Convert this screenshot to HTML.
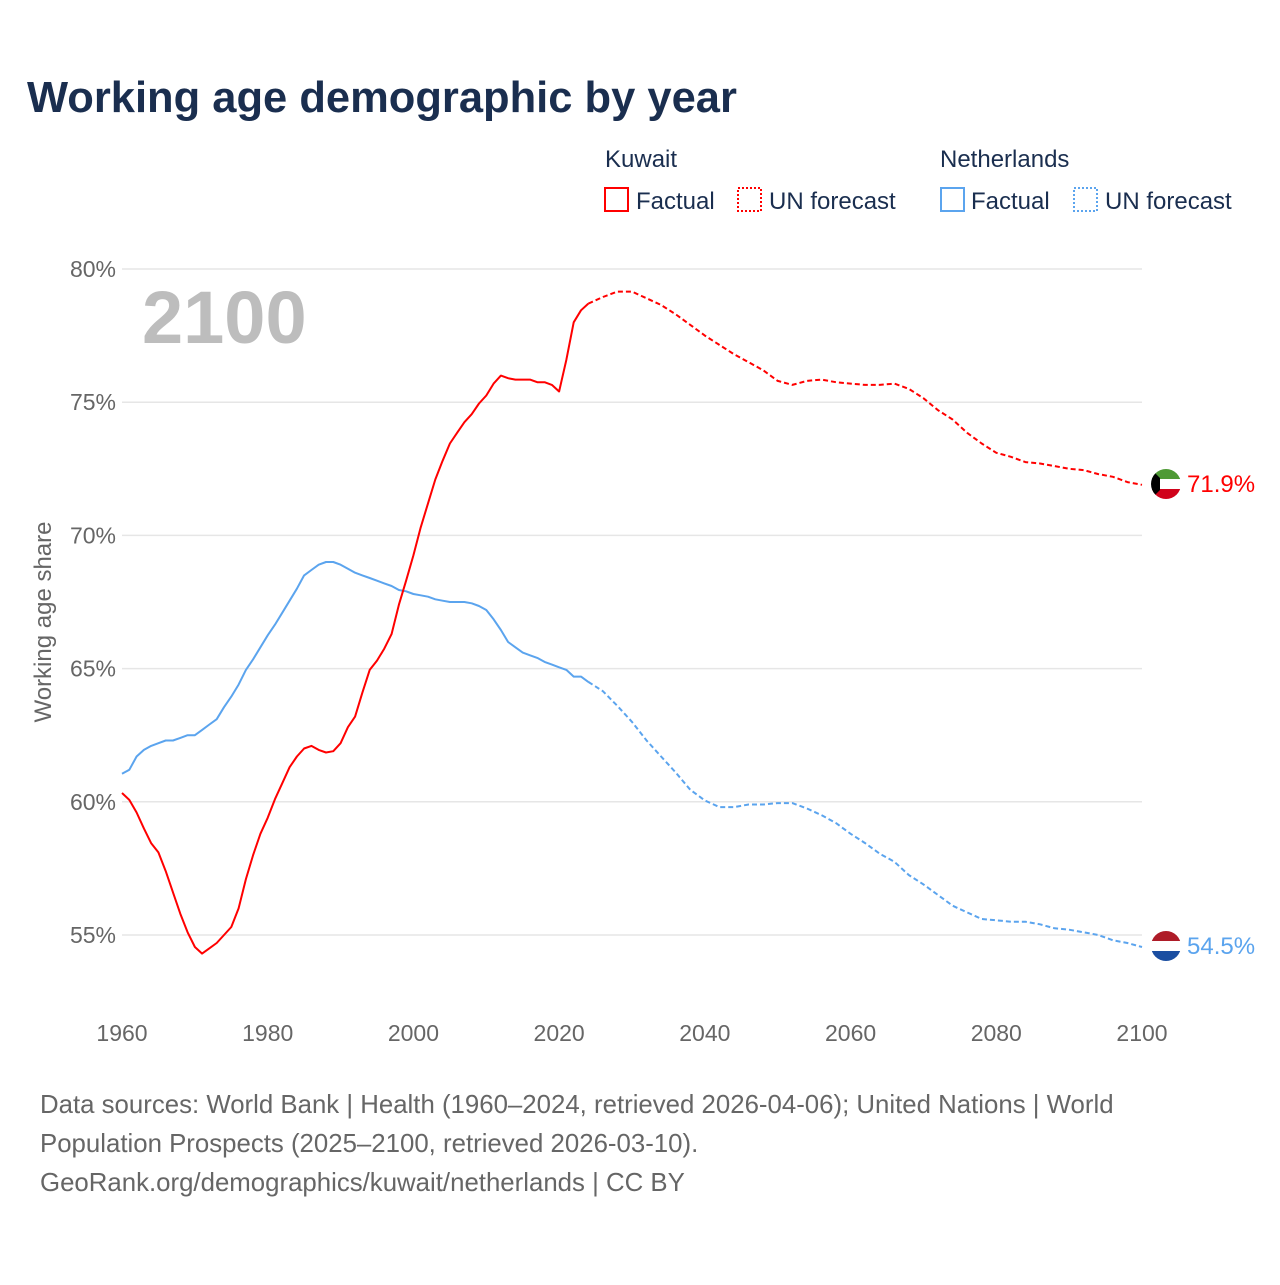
<!DOCTYPE html>
<html><head><meta charset="utf-8"><style>
body{margin:0;background:#fff;font-family:"Liberation Sans",sans-serif;}
</style></head><body>
<svg width="1280" height="1280" viewBox="0 0 1280 1280" xmlns="http://www.w3.org/2000/svg" font-family="Liberation Sans, sans-serif">
<rect width="1280" height="1280" fill="#fff"/>
<text x="27" y="112" font-size="43.5" font-weight="bold" fill="#1a2e4f">Working age demographic by year</text>
<g font-size="24" fill="#1a2e4f">
<text x="605" y="167">Kuwait</text>
<rect x="605" y="188" width="23" height="23" fill="none" stroke="#f00" stroke-width="2"/>
<text x="636" y="209">Factual</text>
<rect x="738" y="188" width="23" height="23" fill="none" stroke="#f00" stroke-width="2" stroke-dasharray="2,2"/>
<text x="769" y="209">UN forecast</text>
<text x="940" y="167">Netherlands</text>
<rect x="941" y="188" width="23" height="23" fill="none" stroke="#5ba4ee" stroke-width="2"/>
<text x="971" y="209">Factual</text>
<rect x="1074" y="188" width="23" height="23" fill="none" stroke="#5ba4ee" stroke-width="2" stroke-dasharray="2,2"/>
<text x="1105" y="209">UN forecast</text>
</g>
<g id="grid"></g>
<text x="142" y="343" font-size="74" font-weight="bold" fill="#bdbdbd">2100</text>
<text transform="translate(51,622) rotate(-90)" text-anchor="middle" font-size="24" fill="#666">Working age share</text>
<g id="series"></g>
<g>
<clipPath id="cf1"><circle cx="1166" cy="484" r="15"/></clipPath>
<g clip-path="url(#cf1)"><rect x="1150" y="468" width="32" height="11" fill="#4e9a35"/><rect x="1150" y="479" width="32" height="10" fill="#fff"/><rect x="1150" y="489" width="32" height="11" fill="#d0021b"/><polygon points="1150,468 1160,478 1160,490 1150,500" fill="#000"/></g>
</g>
<g>
<clipPath id="cf2"><circle cx="1166" cy="946" r="15"/></clipPath>
<g clip-path="url(#cf2)"><rect x="1150" y="930" width="32" height="11" fill="#ae1c28"/><rect x="1150" y="941" width="32" height="10" fill="#fff"/><rect x="1150" y="951" width="32" height="11" fill="#1a4ea1"/></g>
</g>
<text x="1187" y="492" font-size="24" fill="#f00">71.9%</text>
<text x="1187" y="954" font-size="24" fill="#5ba4ee">54.5%</text>
<g font-size="25.8" fill="#666">
<text x="40" y="1113">Data sources: World Bank | Health (1960–2024, retrieved 2026-04-06); United Nations | World</text>
<text x="40" y="1152">Population Prospects (2025–2100, retrieved 2026-03-10).</text>
<text x="40" y="1191">GeoRank.org/demographics/kuwait/netherlands | CC BY</text>
</g>
</svg>
<script>
const yTicks=[55,60,65,70,75,80];
const xTicks=[1960,1980,2000,2020,2040,2060,2080,2100];
const kwYears=[1960,1961,1962,1963,1964,1965,1966,1967,1968,1969,1970,1971,1972,1973,1974,1975,1976,1977,1978,1979,1980,1981,1982,1983,1984,1985,1986,1987,1988,1989,1990,1991,1992,1993,1994,1995,1996,1997,1998,1999,2000,2001,2002,2003,2004,2005,2006,2007,2008,2009,2010,2011,2012,2013,2014,2015,2016,2017,2018,2019,2020,2021,2022,2023,2024];
const kwFactual=[60.33,60.07,59.6,59.0,58.45,58.1,57.4,56.6,55.8,55.1,54.55,54.3,54.5,54.7,55.0,55.3,56.0,57.1,58.0,58.8,59.4,60.1,60.7,61.3,61.7,62.0,62.1,61.95,61.85,61.9,62.2,62.8,63.2,64.1,64.95,65.3,65.75,66.3,67.4,68.3,69.25,70.3,71.2,72.1,72.8,73.45,73.85,74.25,74.55,74.95,75.25,75.7,76.0,75.9,75.85,75.85,75.85,75.75,75.75,75.65,75.4,76.6,78.0,78.45,78.7];
const fcYears=[2024,2026,2028,2030,2032,2034,2036,2038,2040,2042,2044,2046,2048,2050,2052,2054,2056,2058,2060,2062,2064,2066,2068,2070,2072,2074,2076,2078,2080,2082,2084,2086,2088,2090,2092,2094,2096,2098,2100];
const kwForecast=[78.7,78.95,79.15,79.15,78.9,78.65,78.3,77.9,77.5,77.15,76.8,76.5,76.2,75.8,75.65,75.8,75.85,75.75,75.7,75.65,75.65,75.7,75.5,75.15,74.7,74.35,73.85,73.45,73.1,72.95,72.75,72.7,72.6,72.5,72.45,72.3,72.2,72.0,71.9];
const nlYears=kwYears;
const nlFactual=[61.05,61.2,61.7,61.95,62.1,62.2,62.3,62.3,62.4,62.5,62.5,62.7,62.9,63.1,63.55,63.95,64.4,64.95,65.35,65.8,66.25,66.65,67.1,67.55,68.0,68.5,68.7,68.9,69.0,69.0,68.9,68.75,68.6,68.5,68.4,68.3,68.2,68.1,67.95,67.9,67.8,67.75,67.7,67.6,67.55,67.5,67.5,67.5,67.45,67.35,67.2,66.85,66.45,66.0,65.8,65.6,65.5,65.4,65.25,65.15,65.05,64.95,64.7,64.7,64.5];
const nlForecast=[64.5,64.15,63.6,63.0,62.3,61.7,61.1,60.45,60.05,59.8,59.8,59.9,59.9,59.95,59.95,59.75,59.5,59.2,58.8,58.45,58.05,57.75,57.25,56.9,56.5,56.1,55.85,55.6,55.55,55.5,55.5,55.4,55.25,55.2,55.1,55.0,54.8,54.7,54.55];
const X0=122,X1=1142,Y80=269,Y55=935;
const xs=y=>X0+(y-1960)*(X1-X0)/140;
const ys=v=>Y80+(80-v)*(Y55-Y80)/25;
const NS="http://www.w3.org/2000/svg";
const grid=document.getElementById('grid');
yTicks.forEach(t=>{
 const l=document.createElementNS(NS,'line');
 l.setAttribute('x1',X0);l.setAttribute('x2',X1);l.setAttribute('y1',ys(t));l.setAttribute('y2',ys(t));
 l.setAttribute('stroke','#e6e6e6');l.setAttribute('stroke-width','1.5');
 
 
 grid.appendChild(l);
 const tx=document.createElementNS(NS,'text');
 tx.setAttribute('x',116);tx.setAttribute('y',ys(t)+8);tx.setAttribute('text-anchor','end');
 tx.setAttribute('font-size','23');tx.setAttribute('fill','#666');tx.textContent=t+'%';
 
 
 grid.appendChild(tx);
});
xTicks.forEach(t=>{
 const tx=document.createElementNS(NS,'text');
 tx.setAttribute('x',xs(t));tx.setAttribute('y',1041);tx.setAttribute('text-anchor','middle');
 tx.setAttribute('font-size','23');tx.setAttribute('fill','#666');tx.textContent=t;
 
 
 grid.appendChild(tx);
});
const ser=document.getElementById('series');
function line(yrs,vals,color,dash,name){
 const p=document.createElementNS(NS,'path');
 p.setAttribute('d',yrs.map((y,i)=>(i?'L':'M')+xs(y).toFixed(1)+','+ys(vals[i]).toFixed(1)).join(''));
 p.setAttribute('fill','none');p.setAttribute('stroke',color);p.setAttribute('stroke-width','2');
 p.setAttribute('stroke-linejoin','round');
 if(dash)p.setAttribute('stroke-dasharray','5,3');
 
 
 ser.appendChild(p);
}
line(nlYears,nlFactual,'#5ba4ee',false,'netherlands-factual-line');
line(fcYears,nlForecast,'#5ba4ee',true,'netherlands-forecast-line');
line(kwYears,kwFactual,'#f00',false,'kuwait-factual-line');
line(fcYears,kwForecast,'#f00',true,'kuwait-forecast-line');
</script>
</body></html>
